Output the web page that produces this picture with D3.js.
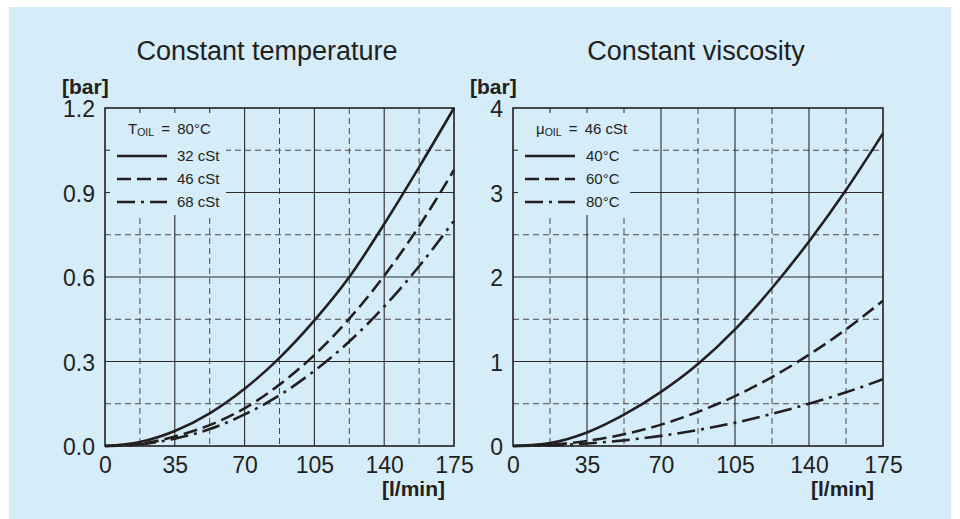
<!DOCTYPE html>
<html>
<head>
<meta charset="utf-8">
<script src="https://cdn.jsdelivr.net/npm/d3@7"></script>
<style>
  body { margin: 0; background: #fff; }
  svg { display: block; font-family: "Liberation Sans", Arial, Helvetica, sans-serif; }
</style>
</head>
<body>
<div id="chart"></div>
<script>
// flow rate samples [l/min]
const flow = [0, 17.5, 35, 52.5, 70, 87.5, 105, 122.5, 140, 157.5, 175];

// constant temperature (T oil = 80°C), pressure drop [bar]
const cst32 = [0, 0.014, 0.053, 0.116, 0.203, 0.313, 0.446, 0.6, 0.788, 0.99, 1.2];
const cst46 = [0, 0.007, 0.034, 0.074, 0.134, 0.218, 0.323, 0.452, 0.604, 0.78, 0.98];
const cst68 = [0, 0.006, 0.026, 0.06, 0.112, 0.18, 0.267, 0.371, 0.495, 0.638, 0.8];

// constant viscosity (46 cSt), pressure drop [bar]
const deg40 = [0, 0.035, 0.16, 0.37, 0.64, 0.97, 1.38, 1.87, 2.42, 3.03, 3.7];
const deg60 = [0, 0.014, 0.06, 0.139, 0.253, 0.404, 0.59, 0.816, 1.08, 1.38, 1.72];
const deg80 = [0, 0.007, 0.03, 0.067, 0.12, 0.19, 0.275, 0.38, 0.5, 0.635, 0.79];

const flowTicks = [0, 35, 70, 105, 140, 175];
const tempTicks = [0, 0.3, 0.6, 0.9, 1.2];
const tempTickLabels = ['0.0', '0.3', '0.6', '0.9', '1.2'];
const viscTicks = [0, 1, 2, 3, 4];
const viscTickLabels = ['0', '1', '2', '3', '4'];

const tempLegend = ['32 cSt', '46 cSt', '68 cSt'];
const viscLegend = ['40°C', '60°C', '80°C'];

const ink = '#231f20';
const bg = '#d5ecf9';
const dashes = [null, '14,6', '18,6,3,6'];

const W = 960;
const H = 519;

const svg = d3.select('#chart')
  .append('svg')
  .attr('width', W)
  .attr('height', H)
  .attr('viewBox', `0 0 ${W} ${H}`);

svg.append('rect')
  .attr('x', 9)
  .attr('y', 7)
  .attr('width', 942)
  .attr('height', H - 7)
  .attr('fill', bg);

function drawPanel(p) {
  const top = 108;
  const bottom = 446;
  const x = d3.scaleLinear().domain([0, 175]).range([p.left, p.right]);
  const y = d3.scaleLinear().domain([0, p.max]).range([bottom, top]);
  const g = svg.append('g');

  // title
  g.append('text')
    .attr('x', p.titleX)
    .attr('y', 60)
    .attr('text-anchor', 'middle')
    .attr('font-size', 27)
    .attr('fill', ink)
    .text(p.title);

  // grid
  const minorX = d3.range(17.5, 175, 35);
  const minorY = d3.range(p.step / 2, p.max, p.step);
  const majorX = flowTicks.slice(1, -1);
  const majorY = p.ticks.slice(1, -1);

  g.append('g').selectAll('line')
    .data(minorX)
    .enter()
    .append('line')
      .attr('x1', d => x(d)).attr('x2', d => x(d))
      .attr('y1', top).attr('y2', bottom)
      .attr('stroke', '#4a4a4a')
      .attr('stroke-width', 1)
      .attr('stroke-dasharray', '6,4');
  g.append('g').selectAll('line')
    .data(minorY)
    .enter()
    .append('line')
      .attr('x1', p.left).attr('x2', p.right)
      .attr('y1', d => y(d)).attr('y2', d => y(d))
      .attr('stroke', '#4a4a4a')
      .attr('stroke-width', 1)
      .attr('stroke-dasharray', '6,4');
  g.append('g').selectAll('line')
    .data(majorX)
    .enter()
    .append('line')
      .attr('x1', d => x(d)).attr('x2', d => x(d))
      .attr('y1', top).attr('y2', bottom)
      .attr('stroke', '#2a2a2a')
      .attr('stroke-width', 1.1);
  g.append('g').selectAll('line')
    .data(majorY)
    .enter()
    .append('line')
      .attr('x1', p.left).attr('x2', p.right)
      .attr('y1', d => y(d)).attr('y2', d => y(d))
      .attr('stroke', '#2a2a2a')
      .attr('stroke-width', 1.1);

  // legend box hides the grid, keep short ticks on the frame
  g.append('rect')
    .attr('x', p.left)
    .attr('y', top)
    .attr('width', p.legendW)
    .attr('height', 107)
    .attr('fill', bg);
  g.append('g').selectAll('line')
    .data(minorX.concat(majorX).filter(d => x(d) < p.left + p.legendW))
    .enter()
    .append('line')
      .attr('x1', d => x(d)).attr('x2', d => x(d))
      .attr('y1', top).attr('y2', top + 5)
      .attr('stroke', '#333')
      .attr('stroke-width', 1.1);
  g.append('g').selectAll('line')
    .data(minorY.concat(majorY).filter(d => y(d) < top + 107))
    .enter()
    .append('line')
      .attr('x1', p.left).attr('x2', p.left + 5)
      .attr('y1', d => y(d)).attr('y2', d => y(d))
      .attr('stroke', '#333')
      .attr('stroke-width', 1.1);

  // legend
  const head = g.append('text')
    .attr('x', p.left + 23)
    .attr('y', 134)
    .attr('font-size', 15)
    .attr('fill', ink)
    .attr('xml:space', 'preserve');
  head.append('tspan').text(p.headSym);
  head.append('tspan').attr('font-size', 10.5).attr('dy', 2).text('OIL');
  head.append('tspan').attr('dy', -2).text(' \u2009=\u2009 ' + p.headVal);

  const rows = g.append('g').selectAll('g')
    .data(p.legend)
    .enter()
    .append('g')
      .attr('transform', (d, i) => `translate(${p.left + 12}, ${156 + i * 23})`);
  rows.append('line')
    .attr('x1', 0).attr('x2', 50)
    .attr('stroke', ink)
    .attr('stroke-width', 2.6)
    .attr('stroke-dasharray', (d, i) => dashes[i]);
  rows.append('text')
    .attr('x', p.legendTextX)
    .attr('y', 5)
    .attr('font-size', 15)
    .attr('fill', ink)
    .text(d => d);

  // curves
  const line = d3.line()
    .x((d, i) => x(flow[i]))
    .y(d => y(d))
    .curve(d3.curveMonotoneX);
  g.append('g').selectAll('path')
    .data(p.series)
    .enter()
    .append('path')
      .attr('d', line)
      .attr('fill', 'none')
      .attr('stroke', ink)
      .attr('stroke-width', 2.6)
      .attr('stroke-dasharray', (d, i) => dashes[i]);

  // frame
  g.append('rect')
    .attr('x', p.left)
    .attr('y', top)
    .attr('width', p.right - p.left)
    .attr('height', bottom - top)
    .attr('fill', 'none')
    .attr('stroke', ink)
    .attr('stroke-width', 1.6);

  // axes
  const axisX = d3.axisBottom(x)
    .tickValues(flowTicks)
    .tickFormat(d3.format('d'))
    .tickSize(0)
    .tickPadding(11);
  const axisY = d3.axisLeft(y)
    .tickValues(p.ticks)
    .tickFormat((d, i) => p.tickLabels[i])
    .tickSize(0)
    .tickPadding(10);

  g.append('g')
    .attr('transform', `translate(0, ${bottom})`)
    .call(axisX)
    .call(a => a.select('.domain').remove())
    .selectAll('text')
      .attr('font-size', 23)
      .attr('font-family', null)
      .attr('fill', ink);
  g.append('g')
    .attr('transform', `translate(${p.left}, 0)`)
    .call(axisY)
    .call(a => a.select('.domain').remove())
    .selectAll('text')
      .attr('font-size', 23)
      .attr('font-family', null)
      .attr('dy', '0.38em')
      .attr('fill', ink);

  g.append('text')
    .attr('x', p.left - 43)
    .attr('y', 94)
    .attr('font-size', 21)
    .attr('font-weight', 'bold')
    .attr('fill', ink)
    .text('[bar]');
  g.append('text')
    .attr('x', p.right - 9)
    .attr('y', 496)
    .attr('text-anchor', 'end')
    .attr('font-size', 21)
    .attr('font-weight', 'bold')
    .attr('fill', ink)
    .text('[l/min]');
}

drawPanel({
  title: 'Constant temperature',
  titleX: 267,
  left: 105,
  right: 454,
  max: 1.2,
  step: 0.3,
  ticks: tempTicks,
  tickLabels: tempTickLabels,
  legendW: 121,
  legendTextX: 60,
  headSym: 'T',
  headVal: '80°C',
  legend: tempLegend,
  series: [cst32, cst46, cst68],
});

drawPanel({
  title: 'Constant viscosity',
  titleX: 696,
  left: 513,
  right: 883,
  max: 4,
  step: 1,
  ticks: viscTicks,
  tickLabels: viscTickLabels,
  legendW: 117,
  legendTextX: 61,
  headSym: 'μ',
  headVal: '46 cSt',
  legend: viscLegend,
  series: [deg40, deg60, deg80],
});
</script>
</body>
</html>
